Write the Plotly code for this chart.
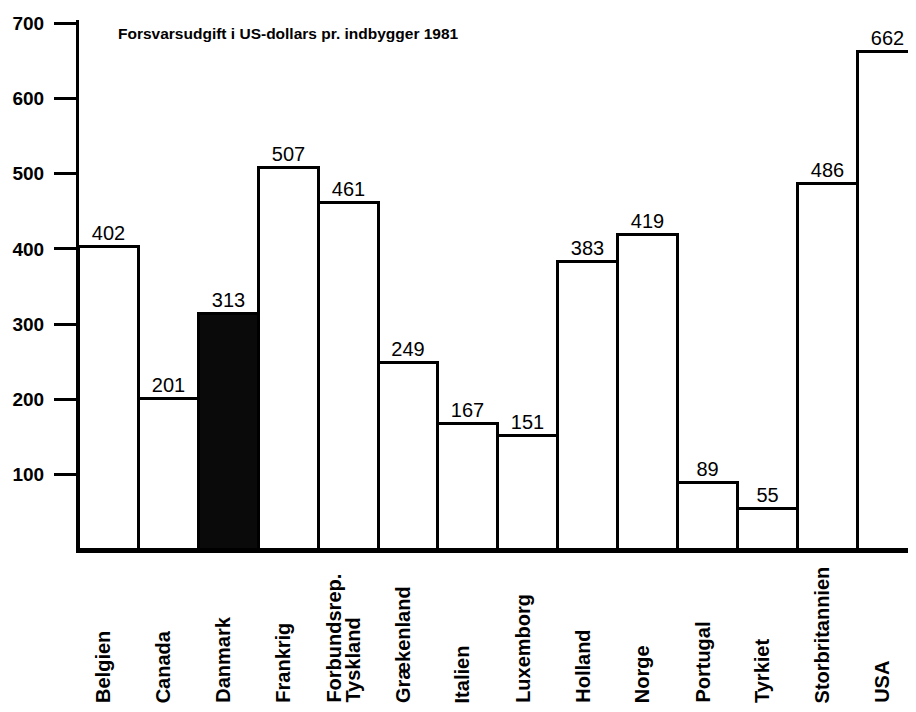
import plotly.graph_objects as go

countries = ["Belgien", "Canada", "Danmark", "Frankrig", "Forbundsrep.<br>Tyskland",
             "Grækenland", "Italien", "Luxemborg", "Holland", "Norge", "Portugal",
             "Tyrkiet", "Storbritannien", "USA"]
values = [402, 201, 313, 507, 461, 249, 167, 151, 383, 419, 89, 55, 486, 662]
highlight = "Danmark"
title_text = "Forsvarsudgift i US-dollars pr. indbygger 1981"
y_ticks = [100, 200, 300, 400, 500, 600, 700]

FONT = "Liberation Sans, Arial, Helvetica, sans-serif"

# page body has an 8px default margin; figure is sized to fill the rest
W, H = 908, 704

fills = ["#0a0a0a" if c == highlight else "white" for c in countries]

fig = go.Figure()
fig.add_trace(go.Bar(
    x=list(range(len(countries))),
    y=values,
    width=1,
    marker=dict(color=fills, line=dict(color="black", width=3)),
    text=[str(v) for v in values],
    textposition="outside",
    textfont=dict(family=FONT, size=20, color="black"),
    constraintext="none",
    hoverinfo="skip",
))

annotations = []
for i, c in enumerate(countries):
    lines = c.split("<br>")
    n = len(lines)
    for j, line in enumerate(lines):
        off = (j - (n - 1) / 2) * 19
        annotations.append(dict(
            x=i, y=0, xref="x", yref="paper",
            text="<b>" + line + "</b>",
            textangle=-90, showarrow=False,
            xanchor="center", yanchor="bottom",
            xshift=-6 + off, yshift=-155,
            font=dict(family=FONT, size=20, color="black"),
        ))

fig.update_layout(
    width=W, height=H,
    margin=dict(l=71, r=0, t=12, b=162, autoexpand=False),
    paper_bgcolor="white", plot_bgcolor="white",
    showlegend=False,
    bargap=0,
    title=dict(text="<b>" + title_text + "</b>", x=(118 - 8) / W, xanchor="left",
               y=1 - (34 - 8) / H, yanchor="middle", xref="container", yref="container",
               font=dict(family=FONT, size=15.5, color="black")),
    xaxis=dict(range=[-0.5, 13.47], showticklabels=False, ticks="",
               showgrid=False, zeroline=False, showline=True,
               linecolor="black", linewidth=3, automargin=False),
    yaxis=dict(range=[0, 704], tickvals=y_ticks, ticktext=["<b>%d</b>" % t for t in y_ticks],
               ticks="outside", ticklen=22, tickwidth=3, tickcolor="black",
               showgrid=False, zeroline=False, showline=True,
               linecolor="black", linewidth=3, automargin=False,
               tickfont=dict(family=FONT, size=19, color="black"),
               ticklabelstandoff=6),
    annotations=annotations,
    font=dict(family=FONT, color="black"),
)

fig.write_html("out.html")
